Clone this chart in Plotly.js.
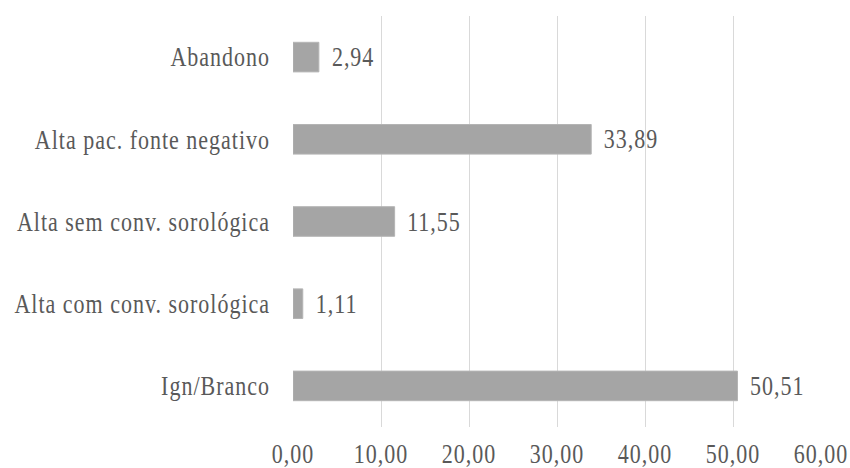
<!DOCTYPE html>
<html>
<head>
<meta charset="utf-8">
<script src="https://cdn.plot.ly/plotly-3.0.1.min.js"></script>
<style>
  html, body { margin: 0; padding: 0; background: #ffffff; }
  #chart { width: 850px; height: 468px; }
  /* Word-style loose tracking on every label */
  #chart text { letter-spacing: 1px; }
</style>
</head>
<body>
<div id="chart"></div>
<script>
// Categories listed bottom to top (Plotly draws the first category at the bottom)
const categories = [
  "Ign/Branco",
  "Alta com conv. sorológica",
  "Alta sem conv. sorológica",
  "Alta pac. fonte negativo",
  "Abandono"
];
const percentages = [50.51, 1.11, 11.55, 33.89, 2.94];
const tickValues = [0, 10, 20, 30, 40, 50, 60];

const serif = "Liberation Serif, Times New Roman, serif";
const textColor = "#595959";
const fontSize = 22;
const textStretchY = 1.22;   // glyphs are drawn somewhat taller than wide

const trace = {
  type: "bar",
  orientation: "h",
  y: categories,
  x: percentages,
  marker: { color: "#a5a5a5", line: { color: "#b4b4b4", width: 1 } },
  texttemplate: "  %{x:.2f}",
  textposition: "outside",
  cliponaxis: false,
  textfont: { family: serif, size: fontSize, color: textColor },
  hoverinfo: "none"
};

const layout = {
  width: 850,
  height: 468,
  margin: { l: 293, r: 29, t: 16, b: 41 },
  paper_bgcolor: "#ffffff",
  plot_bgcolor: "#ffffff",
  separators: ",.",
  bargap: 0.64,
  showlegend: false,
  font: { family: serif, size: fontSize, color: textColor },
  xaxis: {
    range: [0, 60],
    tickvals: tickValues,
    tickformat: ".2f",
    showgrid: true,
    gridcolor: "#d9d9d9",
    gridwidth: 1,
    zeroline: false,
    showline: false,
    ticks: "",
    ticklabelstandoff: 11,
    tickfont: { family: serif, size: fontSize, color: textColor }
  },
  yaxis: {
    type: "category",
    showgrid: false,
    zeroline: false,
    showline: false,
    ticks: "",
    ticklabelstandoff: 22,
    tickfont: { family: serif, size: fontSize, color: textColor }
  }
};

Plotly.newPlot("chart", [trace], layout, { displayModeBar: false, staticPlot: true })
  .then(function (gd) {
    // Stretch each label vertically about its own centre
    gd.querySelectorAll("svg text").forEach(function (t) {
      if (!t.textContent.trim()) return;
      const bb = t.getBBox();
      const cy = bb.y + bb.height / 2;
      const prev = t.getAttribute("transform") || "";
      t.setAttribute("transform",
        prev + " translate(0," + cy + ") scale(1," + textStretchY + ") translate(0," + (-cy) + ")");
    });
  });
</script>
</body>
</html>
